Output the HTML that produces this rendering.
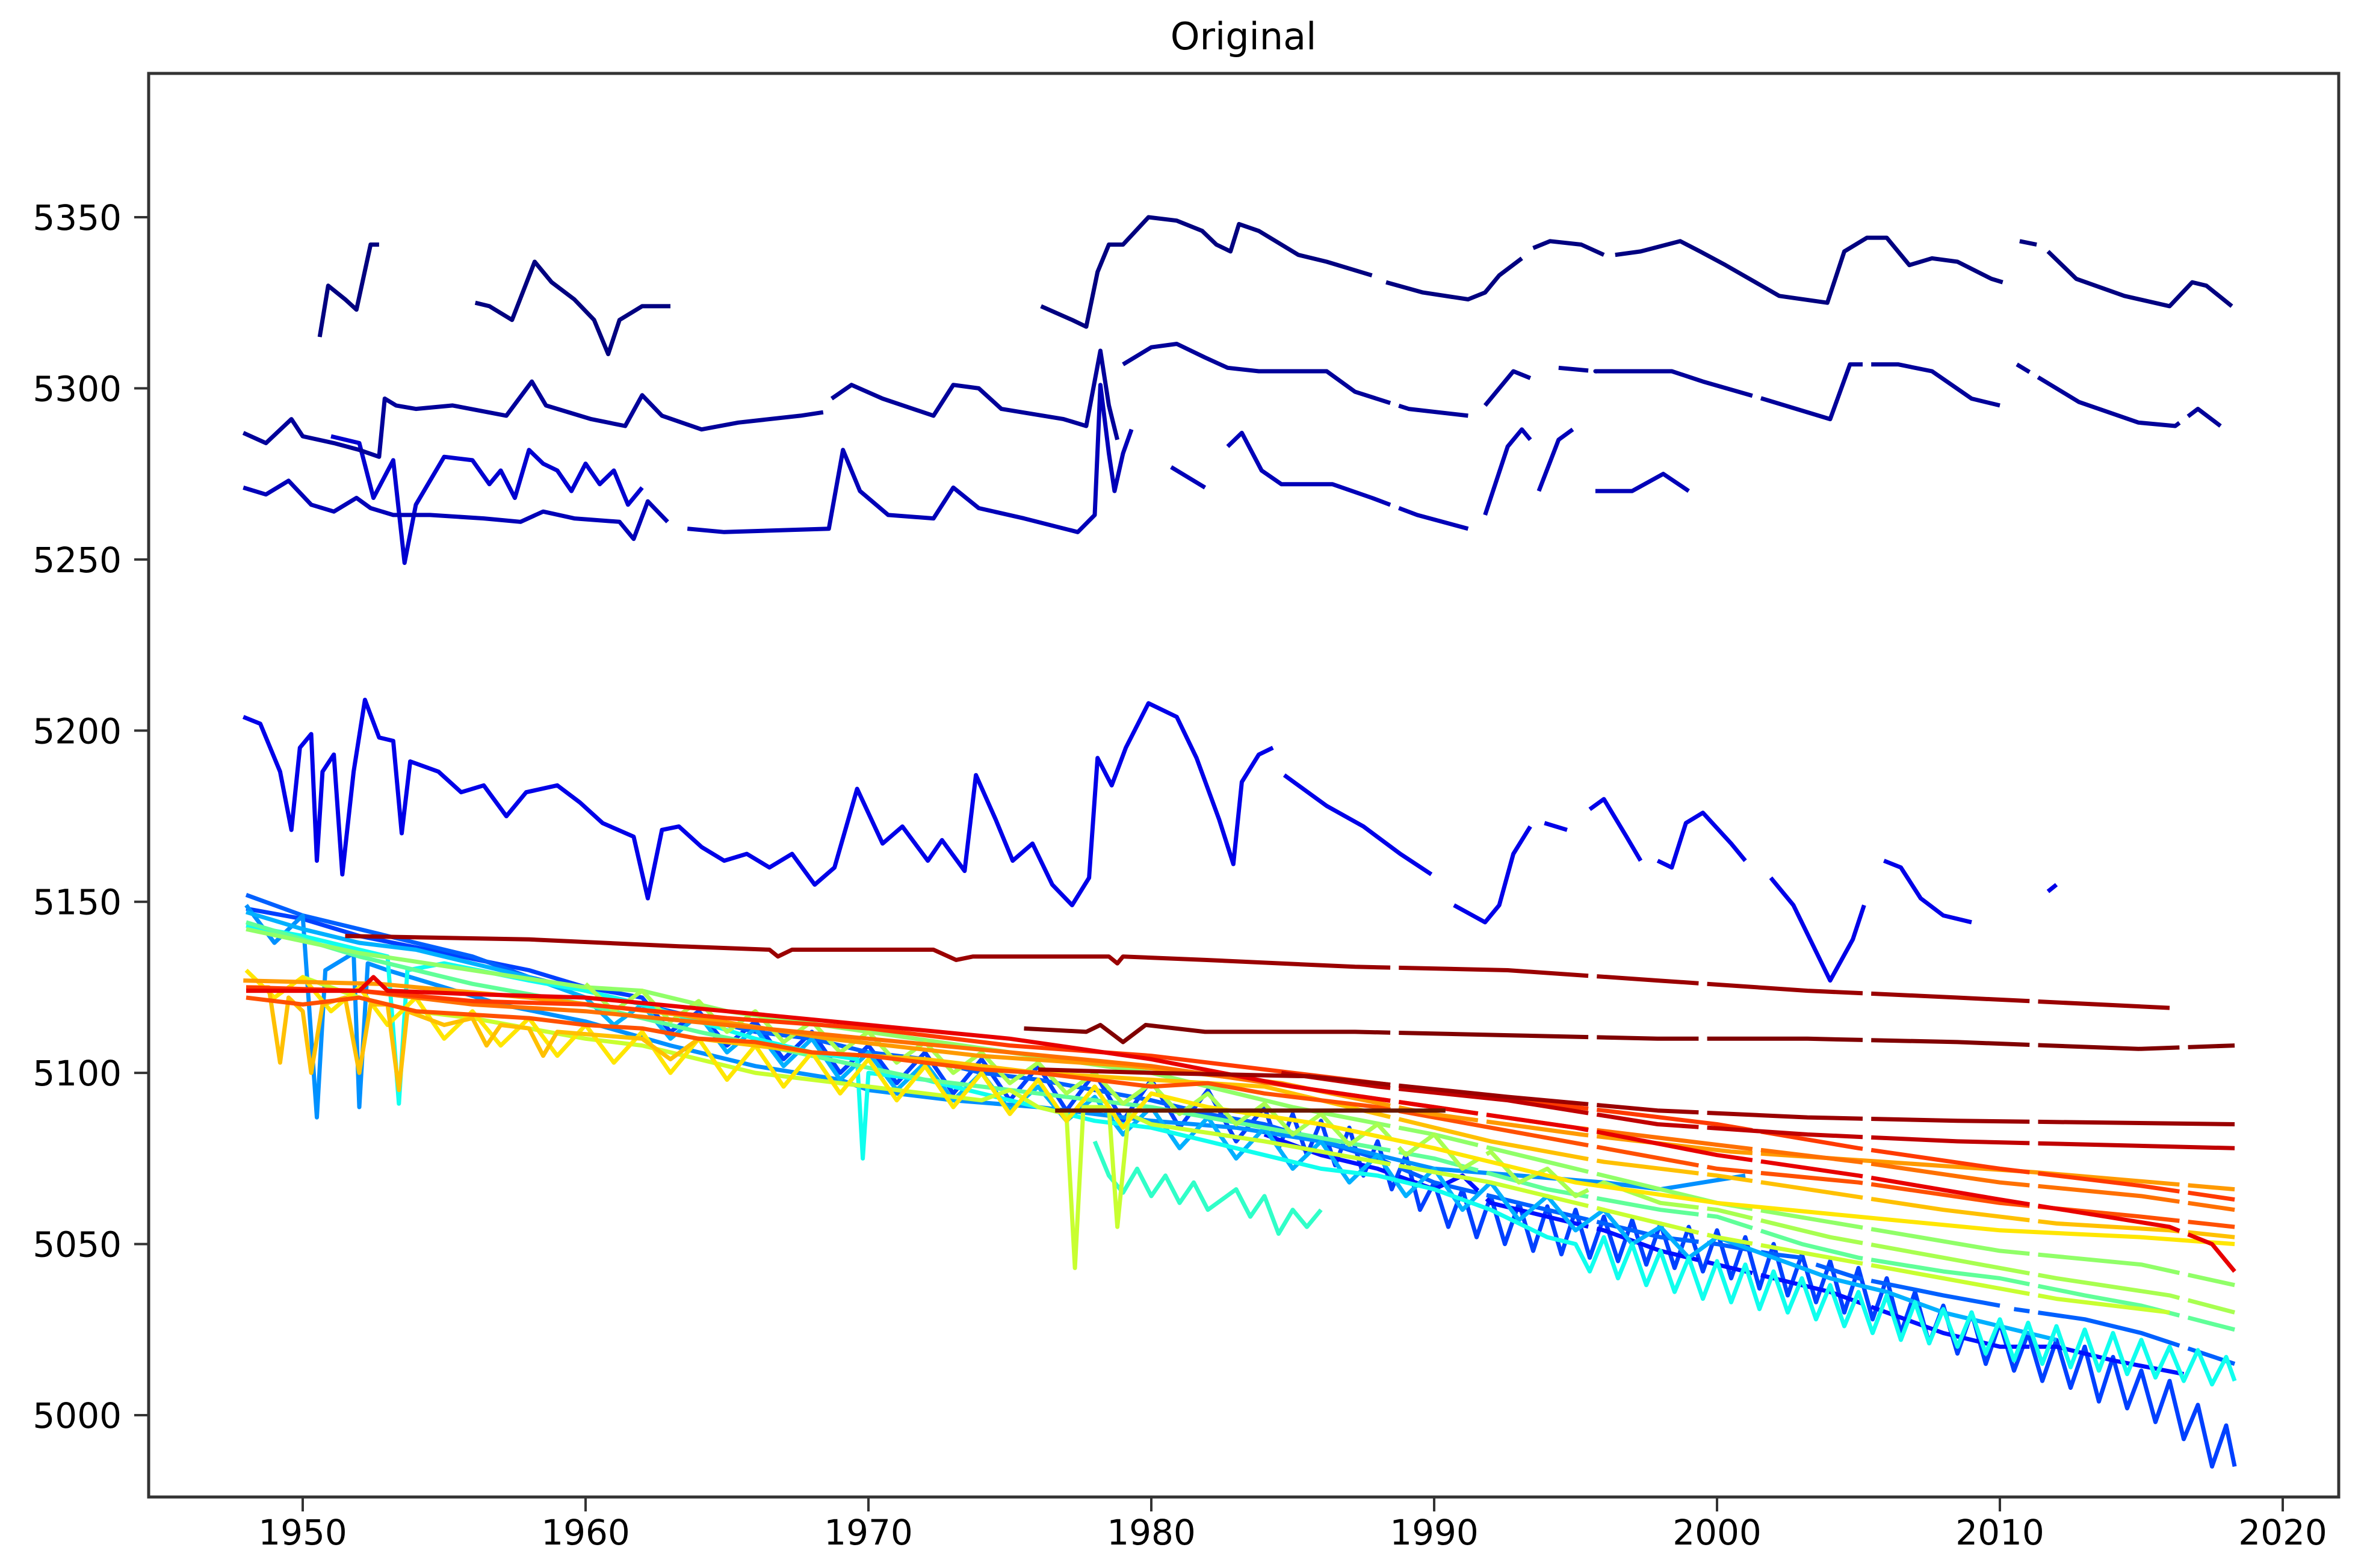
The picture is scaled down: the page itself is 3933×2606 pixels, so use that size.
<!DOCTYPE html>
<html><head><meta charset="utf-8"><style>
html,body{margin:0;padding:0;background:#fff;}
svg{display:block;}
text{font-family:"DejaVu Sans","Liberation Sans",sans-serif;fill:#000;}
</style></head><body>
<svg id="chart" width="3933" height="2606" viewBox="0 0 3933 2606" xmlns="http://www.w3.org/2000/svg">
<rect x="0" y="0" width="3933" height="2606" fill="#fff"/>
<text x="2066" y="82" font-size="62" text-anchor="middle">Original</text>
<g id="plot"></g>
<g id="axes"></g>
</svg>
<script>
const xTicks = [1950,1960,1970,1980,1990,2000,2010,2020];
const yTicks = [5000,5050,5100,5150,5200,5250,5300,5350];
const seriesColors = ["#000080","#00009a","#0000b8","#0000d0","#0000e8","#0010ff","#0040ff","#0060ff","#0090ff","#10ffee","#20f0ff","#30ffc8","#60ff98","#90ff68","#c8ff30","#ffe600","#ffc000","#ff9a00","#ff7000","#ff3a00","#e80000","#c00000","#9a0000","#800000","#6a1800","#ff5000","#a8ff50","#00b0ff"];
const sA = [[1950.6,5315],[1950.9,5330],[1951.5,5326],[1951.9,5323],[1952.4,5342],[1952.7,5342],null,[1956.1,5325],[1956.6,5324],[1957.4,5320],[1958.2,5337],[1958.8,5331],[1959.6,5326],[1960.3,5320],[1960.8,5310],[1961.2,5320],[1962,5324],[1963,5324],null,[1976.1,5324],[1977.2,5320],[1977.7,5318],[1978.1,5334],[1978.5,5342],[1979,5342],[1979.9,5350],[1980.9,5349],[1981.8,5346],[1982.3,5342],[1982.8,5340],[1983.1,5348],[1983.8,5346],[1985.2,5339],[1986.2,5337],[1987.8,5333],null,[1988.3,5331],[1989.6,5328],[1991.2,5326],[1991.8,5328],[1992.3,5333],[1993.1,5338],null,[1993.5,5341],[1994.1,5343],[1995.2,5342],[1996,5339],null,[1996.4,5339],[1997.3,5340],[1998.7,5343],[1999.4,5340],[2000.3,5336],[2002.2,5327],[2003.9,5325],[2004.5,5340],[2005.3,5344],[2006,5344],[2006.8,5336],[2007.6,5338],[2008.5,5337],[2009.7,5332],[2010.1,5331],null,[2010.7,5343],[2011.3,5342],null,[2011.7,5340],[2012.7,5332],[2014.4,5327],[2016,5324],[2016.8,5331],[2017.3,5330],[2018.2,5324]];
const sB = [[1947.9,5287],[1948.7,5284],[1949.6,5291],[1950,5286],[1951.1,5284],[1952,5282],[1952.7,5280],[1952.9,5297],[1953.3,5295],[1954,5294],[1955.3,5295],[1957.2,5292],[1958.1,5302],[1958.6,5295],[1960.2,5291],[1961.4,5289],[1962,5298],[1962.7,5292],[1964.1,5288],[1965.4,5290],[1967.6,5292],[1968.4,5293],null,[1968.7,5297],[1969.4,5301],[1970.5,5297],[1972.3,5292],[1973,5301],[1973.9,5300],[1974.7,5294],[1976.9,5291],[1977.7,5289],[1978.2,5311],[1978.5,5295],[1978.8,5285],null,[1979,5307],[1980,5312],[1980.9,5313],[1981.9,5309],[1982.7,5306],[1983.8,5305],[1986.2,5305],[1987.2,5299],[1989.1,5294],[1991.2,5292],null,[1991.8,5295],[1992.8,5305],[1993.4,5303],null,[1994.4,5306],[1995.7,5305],[1998.4,5305],[1999.5,5302],[2001.6,5297],[2004,5291],[2004.7,5307],[2006.4,5307],[2007.6,5305],[2009,5297],[2010,5295],null,[2010.6,5307],[2011.4,5303],[2012.8,5296],[2014.9,5290],[2016.2,5289],[2017,5294],[2017.8,5289]];
const sC = [[1947.9,5271],[1948.7,5269],[1949.5,5273],[1950.3,5266],[1951.1,5264],[1951.9,5268],[1952.4,5265],[1953.2,5263],[1954.5,5263],[1956.4,5262],[1957.7,5261],[1958.5,5264],[1959.6,5262],[1961.2,5261],[1961.7,5256],[1962.2,5267],[1962.9,5261],null,[1963.6,5259],[1964.9,5258],[1968.6,5259],[1969.1,5282],[1969.7,5270],[1970.7,5263],[1972.3,5262],[1973,5271],[1973.9,5265],[1975.5,5262],[1977.4,5258],[1978,5263],[1978.2,5301],[1978.5,5281],[1978.7,5270],[1979,5281],[1979.3,5288],null,[1980.7,5277],[1981.9,5271],null,[1982.7,5283],[1983.2,5287],[1983.9,5276],[1984.6,5272],[1986.4,5272],[1987.8,5268],[1989.4,5263],[1991.2,5259],null,[1991.8,5263],[1992.6,5283],[1993.1,5288],[1993.4,5285],null,[1993.7,5270],[1994.4,5285],[1994.9,5288],null,[1995.7,5270],[1997,5270],[1998.1,5275],[1999,5270]];
const sD = [[1951,5286],[1952,5284],[1952.5,5268],[1953.2,5279],[1953.6,5249],[1954,5266],[1955,5280],[1956,5279],[1956.6,5272],[1957,5276],[1957.5,5268],[1958,5282],[1958.5,5278],[1959,5276],[1959.5,5270],[1960,5278],[1960.5,5272],[1961,5276],[1961.5,5266],[1962,5271]];
const sE = [[1947.9,5204],[1948.5,5202],[1949.2,5188],[1949.6,5171],[1949.9,5195],[1950.3,5199],[1950.5,5162],[1950.7,5188],[1951.1,5193],[1951.4,5158],[1951.8,5188],[1952.2,5209],[1952.7,5198],[1953.2,5197],[1953.5,5170],[1953.8,5191],[1954.8,5188],[1955.6,5182],[1956.4,5184],[1957.2,5175],[1957.9,5182],[1959,5184],[1959.8,5179],[1960.6,5173],[1961.7,5169],[1962.2,5151],[1962.7,5171],[1963.3,5172],[1964.1,5166],[1964.9,5162],[1965.7,5164],[1966.5,5160],[1967.3,5164],[1968.1,5155],[1968.8,5160],[1969.6,5183],[1970.5,5167],[1971.2,5172],[1972.1,5162],[1972.6,5168],[1973.4,5159],[1973.8,5187],[1974.5,5174],[1975.1,5162],[1975.8,5167],[1976.5,5155],[1977.2,5149],[1977.8,5157],[1978.1,5192],[1978.6,5184],[1979.1,5195],[1979.9,5208],[1980.9,5204],[1981.6,5192],[1982.4,5174],[1982.9,5161],[1983.2,5185],[1983.8,5193],[1984.3,5195],null,[1984.7,5187],[1986.2,5178],[1987.5,5172],[1988.8,5164],[1989.9,5158],null,[1990.7,5149],[1991.8,5144],[1992.3,5149],[1992.8,5164],[1993.4,5172],null,[1993.9,5173],[1994.7,5171],null,[1995.5,5177],[1996,5180],[1996.8,5169],[1997.3,5162],null,[1997.9,5162],[1998.4,5160],[1998.9,5173],[1999.5,5176],[2000.5,5167],[2001,5162],null,[2001.9,5157],[2002.7,5149],[2004,5127],[2004.8,5139],[2005.2,5149],null,[2005.9,5162],[2006.5,5160],[2007.2,5151],[2008,5146],[2009,5144],null,[2011.7,5153],[2012,5155]];
const sBlueDeep = [[1948,5148],[1950,5145],[1952,5140],[1955,5135],[1958,5130],[1960,5125],[1962,5122],[1963,5112],[1964,5118],[1965,5108],[1966,5115],[1967,5104],[1968,5112],[1969,5100],[1970,5108],[1971,5097],[1972,5106],[1973,5094],[1974,5104],[1975,5092],[1976,5102],[1977,5089],[1978,5100],[1979,5086],[1980,5098],[1981,5084],[1982,5095],[1983,5080],[1984,5090],[1984.5,5078],[1985,5088],[1985.5,5076],[1986,5086],[1986.5,5073],[1987,5084],[1987.5,5070],[1988,5080],[1988.5,5066],[1989,5076],[1989.5,5060],[1990,5068],[1990.5,5055],[1991,5066],[1991.5,5052],[1992,5064],[1992.5,5050],[1993,5062],[1993.5,5048],[1994,5061],[1994.5,5047],[1995,5060],[1995.5,5046],[1996,5058],[1996.5,5045],[1997,5057],[1997.5,5044],[1998,5056],[1998.5,5043],[1999,5055],[1999.5,5042],[2000,5054],[2000.5,5040],[2001,5052],[2001.5,5037],[2002,5050],[2002.5,5035],[2003,5047],[2003.5,5033],[2004,5045],[2004.5,5030],[2005,5043],[2005.5,5028],[2006,5040],[2006.5,5024],[2007,5036],[2007.5,5021],[2008,5032],[2008.5,5018],[2009,5030],[2009.5,5015],[2010,5027],[2010.5,5013],[2011,5024],[2011.5,5010],[2012,5022],[2012.5,5008],[2013,5020],[2013.5,5004],[2014,5017],[2014.5,5002],[2015,5013],[2015.5,4998],[2016,5010],[2016.5,4993],[2017,5003],[2017.5,4985],[2018,4997],[2018.3,4985]];
const sBlue2 = [[1948,5152],[1950,5146],[1952,5142],[1954,5138],[1956,5134],[1958,5128],[1960,5124],[1962,5120],[1964,5116],[1966,5112],[1968,5110],[1970,5106],[1972,5104],[1974,5100],[1976,5098],[1978,5095],[1980,5092],[1982,5088],[1984,5085],[1986,5080],[1988,5075],[1990,5068],[1992,5064],[1994,5060],[1996,5056],[1998,5052],[2000,5050],[2002,5047],[2003,5046],null,[2003.5,5044],[2005,5040],[2008,5035],[2010,5032],null,[2010.5,5031],[2013,5028],[2015,5024],[2018.3,5015]];
const sBlue3 = [[1984,5082],[1986,5076],[1988,5072],[1990,5066],[1991,5070],[1992,5062],[1994,5058],[1996,5054],[1998,5048],[2000,5044],[2002,5040],[2004,5036],[2006,5030],[2008,5024],[2010,5020],[2012,5020],[2014,5016],[2016.5,5012]];
const sBlue4 = [[1948,5149],[1949,5138],[1950,5146],[1950.5,5087],[1950.8,5130],[1951.8,5135],[1952,5090],[1952.3,5132],[1953,5130],[1955,5125],[1957,5120],[1960,5115],[1963,5108],[1966,5102],[1969,5098],[1970,5095],[1973,5092],[1976,5090],[1980,5086],[1983,5084],[1986,5080],[1990,5072],[1993,5070],[1996,5068],[1998,5066],[2001,5070]];
const sCyan = [[1948,5143],[1950,5140],[1952,5136],[1953,5134],[1953.4,5091],[1953.7,5130],[1955,5132],[1958,5127],[1960,5124],[1962,5120],[1964,5115],[1966,5110],[1968,5106],[1969.6,5104],[1969.8,5075],[1970,5100],[1972,5098],[1974,5094],[1976,5090],[1978,5086],[1980,5084],[1982,5080],[1984,5076],[1986,5072],[1988,5070],[1990,5066],[1992,5060],[1993,5056],[1994,5052],[1995,5050],[1995.5,5042],[1996,5052],[1996.5,5040],[1997,5050],[1997.5,5038],[1998,5048],[1998.5,5036],[1999,5046],[1999.5,5034],[2000,5045],[2000.5,5033],[2001,5044],[2001.5,5031],[2002,5042],[2002.5,5030],[2003,5040],[2003.5,5028],[2004,5038],[2004.5,5026],[2005,5036],[2005.5,5024],[2006,5035],[2006.5,5022],[2007,5033],[2007.5,5021],[2008,5031],[2008.5,5020],[2009,5030],[2009.5,5018],[2010,5028],[2010.5,5016],[2011,5027],[2011.5,5015],[2012,5026],[2012.5,5014],[2013,5025],[2013.5,5013],[2014,5024],[2014.5,5012],[2015,5022],[2015.5,5011],[2016,5020],[2016.5,5010],[2017,5019],[2017.5,5009],[2018,5017],[2018.3,5010]];
const sTeal = [[1978,5080],[1978.5,5070],[1979,5065],[1979.5,5072],[1980,5064],[1980.5,5070],[1981,5062],[1981.5,5068],[1982,5060],[1983,5066],[1983.5,5058],[1984,5064],[1984.5,5053],[1985,5060],[1985.5,5055],[1986,5060]];
const sGreen2 = [[1948,5144],[1952,5134],[1956,5126],[1960,5120],[1964,5112],[1968,5105],[1972,5098],[1976,5094],[1980,5090],[1984,5084],[1988,5078],[1990,5075],[1994,5066],[1998,5060],[2000,5058],[2003,5050],[2005,5046],[2008,5042],[2010,5040],[2013,5035],[2015,5032],[2018.3,5025]];
const sGreen1 = [[1948,5142],[1952,5135],[1956,5130],[1960,5125],[1962,5124],[1965,5118],[1970,5112],[1975,5106],[1980,5100],[1985,5090],[1990,5082],[1995,5072],[2000,5062],[2005,5055],[2010,5048],[2015,5044],[2018.3,5038]];
const sLime = [[1950,5128],[1952,5122],[1954,5118],[1956,5116],[1958,5113],[1960,5110],[1962,5108],[1964,5104],[1966,5100],[1968,5098],[1970,5096],[1972,5094],[1974,5092],[1975,5095],[1976,5090],[1977,5088],[1977.3,5043],[1977.6,5090],[1978.5,5090],[1978.8,5055],[1979.2,5088],[1980,5085],[1984,5080],[1988,5074],[1992,5068],[1996,5060],[2000,5052],[2004,5046],[2008,5040],[2012,5034],[2016,5030]];
const sYellow = [[1948,5130],[1949,5122],[1950,5128],[1951,5118],[1952,5125],[1953,5114],[1954,5122],[1955,5110],[1956,5118],[1957,5108],[1958,5116],[1959,5105],[1960,5114],[1961,5103],[1962,5112],[1963,5100],[1964,5110],[1965,5098],[1966,5108],[1967,5096],[1968,5106],[1969,5094],[1970,5104],[1971,5092],[1972,5102],[1973,5090],[1974,5100],[1975,5088],[1976,5098],[1977,5086],[1978,5096],[1979,5084],[1980,5094],[1982,5090],[1986,5085],[1990,5078],[1995,5068],[2000,5062],[2005,5058],[2010,5054],[2015,5052],[2018.3,5050]];
const sGold = [[1948,5125],[1948.8,5125],[1949.2,5103],[1949.5,5122],[1950,5118],[1950.3,5100],[1950.7,5120],[1951.5,5122],[1952,5100],[1952.4,5120],[1953,5120],[1953.4,5095],[1953.7,5118],[1955,5114],[1956,5116],[1956.5,5108],[1957,5114],[1958,5113],[1958.5,5105],[1959,5112],[1962,5110],[1963,5104],[1964,5110],[1968,5106],[1972,5104],[1976,5100],[1980,5098],[1984,5096],[1988,5088],[1992,5080],[1996,5074],[2000,5070],[2004,5065],[2008,5060],[2012,5056],[2016,5054],[2018.3,5052]];
const sOrange1 = [[1947.9,5127],[1952.7,5126],[1958,5122],[1963.3,5117],[1968.6,5110],[1973.9,5105],[1979.3,5102],[1984.6,5097],[1989.9,5088],[1995.2,5082],[2000.5,5077],[2005.9,5074],[2011.2,5071],[2018.3,5066]];
const sOrange2 = [[1948,5124],[1952,5124],[1956,5120],[1960,5118],[1965,5114],[1970,5110],[1975,5106],[1980,5102],[1985,5096],[1990,5090],[1995,5084],[2000,5079],[2005,5074],[2010,5068],[2015,5064],[2018.3,5060]];
const sOrangeRed = [[1948,5125],[1952,5124],[1956,5121],[1960,5120],[1965,5116],[1970,5113],[1975,5108],[1980,5105],[1985,5100],[1990,5095],[1995,5090],[2000,5085],[2005,5078],[2010,5072],[2015,5067],[2018.3,5063]];
const sRed = [[1948,5124],[1952,5124],[1952.5,5128],[1953,5124],[1956,5123],[1960,5122],[1965,5118],[1970,5114],[1975,5110],[1980,5104],[1985,5096],[1990,5090],[1995,5084],[2000,5076],[2005,5070],[2010,5063],[2016,5055],[2017.5,5050],[2018.3,5042]];
const sRed4 = [[1984.6,5100],[1988,5096],[1992.6,5092],[1997.9,5085],[2003.2,5082],[2008.5,5080],[2018.3,5078]];
const sDarkRed1 = [[1951.5,5140],[1958,5139],[1963.3,5137],[1966.5,5136],[1966.8,5134],[1967.3,5136],[1972.3,5136],[1973.1,5133],[1973.7,5134],[1978.5,5134],[1978.8,5132],[1979,5134],[1981.9,5133],[1987.2,5131],[1992.6,5130],[1997.9,5127],[2003.2,5124],[2008.5,5122],[2016,5119]];
const sDarkRed2 = [[1975.5,5113],[1977.7,5112],[1978.2,5114],[1979,5109],[1979.8,5114],[1981.9,5112],[1987.2,5112],[1992.6,5111],[1997.9,5110],[2003.2,5110],[2008.5,5109],[2014.9,5107],[2018.3,5108]];
const sDarkRed3 = [[1976,5101],[1980,5100],[1985.6,5099],[1992.6,5093],[1997.9,5089],[2003.2,5087],[2008.5,5086],[2018.3,5085]];
const sBrown = [[1976.6,5089],[1990.4,5089]];
const sOrangeBand = [[1948,5122],[1950,5120],[1952,5122],[1954,5118],[1956,5117],[1958,5116],[1960,5114],[1962,5113],[1964,5110],[1966,5109],[1968,5106],[1970,5105],[1972,5103],[1974,5101],[1976,5100],[1978,5098],[1980,5096],[1982,5097],[1984,5094],[1986,5092],[1988,5090],[1992,5084],[1996,5078],[2000,5072],[2005,5068],[2010,5062],[2015,5058],[2018.3,5055]];
const sGreenOsc = [[1960,5126],[1961,5118],[1962,5124],[1963,5115],[1964,5121],[1965,5112],[1966,5118],[1967,5109],[1968,5115],[1969,5106],[1970,5112],[1971,5103],[1972,5109],[1973,5100],[1974,5106],[1975,5097],[1976,5103],[1977,5094],[1978,5100],[1979,5091],[1980,5097],[1981,5088],[1982,5094],[1983,5085],[1984,5091],[1985,5082],[1986,5088],[1987,5079],[1988,5085],[1989,5076],[1990,5082],[1991,5072],[1992,5077],[1993,5068],[1994,5072],[1995,5064],[1996,5068],[1998,5062],[2000,5060],[2004,5052],[2008,5046],[2012,5040],[2016,5035],[2018.3,5030]];
const sSkyOsc = [[1948,5147],[1950,5142],[1952,5138],[1954,5136],[1956,5132],[1958,5128],[1960,5122],[1961,5114],[1962,5120],[1963,5110],[1964,5117],[1965,5106],[1966,5113],[1967,5102],[1968,5110],[1969,5098],[1970,5106],[1971,5095],[1972,5103],[1973,5092],[1974,5100],[1975,5089],[1976,5096],[1977,5086],[1978,5093],[1979,5082],[1980,5090],[1981,5078],[1982,5087],[1983,5075],[1984,5084],[1985,5072],[1986,5080],[1987,5068],[1988,5076],[1989,5064],[1990,5072],[1991,5060],[1992,5068],[1993,5057],[1994,5064],[1995,5054],[1996,5060],[1997,5050],[1998,5055],[1999,5046],[2000,5052],[2002,5046],[2004,5040],[2006,5036],[2008,5030],[2010,5026],[2012,5022]];
const seriesList = [sA,sB,sC,sD,sE,sBlue4,sBlueDeep,sBlue2,sBlue3,sCyan,sTeal,sGreen2,sGreen1,sLime,sYellow,sGold,sOrange1,sOrange2,sOrangeRed,sRed,sRed4,sDarkRed1,sDarkRed2,sDarkRed3,sBrown,sOrangeBand,sGreenOsc,sSkyOsc];
const seriesColorIdx = [0,1,2,3,4,8,6,7,5,9,11,12,13,14,15,16,17,18,19,20,21,22,23,22,24,25,26,27];
const missingYears = [1988.6,1991.7,1995.6,1999.5,2001.4,2005.3,2011.2,2016.5];

const X0=247,X1=3886,Y0=122,Y1=2488;
function xs(yr){return 503+(yr-1950)*(3793-503)/70;}
function ys(v){return 2352-(v-5000)*(2352-361)/350;}
const NS="http://www.w3.org/2000/svg";
const plot=document.getElementById('plot');
const axes=document.getElementById('axes');
const clip=document.createElementNS(NS,'clipPath');clip.setAttribute('id','clipA');
const cr=document.createElementNS(NS,'rect');cr.setAttribute('x',X0);cr.setAttribute('y',Y0);cr.setAttribute('width',X1-X0);cr.setAttribute('height',Y1-Y0);
clip.appendChild(cr);document.getElementById('chart').appendChild(clip);
plot.setAttribute('clip-path','url(#clipA)');
const gapSeries = new Set([1,2,7,8,11,12,13,15,16,17,18,19,20,21,22,23,25,26]);
const drawOrder = [6,7,8,5,27,9,10,11,12,26,13,14,15,25,16,17,18,19,20,21,22,23,24,4,3,2,1,0];
drawOrder.forEach(function(si){
  const s=seriesList[si];
  let d='';let pen=false;let prev=null;
  s.forEach(function(p){
    if(p===null){pen=false;prev=null;return;}
    if(prev&&gapSeries.has(si)){
      const mg=missingYears.find(function(m){return m>prev[0]&&m<p[0]&&p[0]>1985;});
      if(mg!==undefined){
        const t1=(mg-0.15-prev[0])/(p[0]-prev[0]),t2=(mg+0.15-prev[0])/(p[0]-prev[0]);
        const v1=prev[1]+(p[1]-prev[1])*t1,v2=prev[1]+(p[1]-prev[1])*t2;
        d+='L'+xs(mg-0.15).toFixed(1)+' '+ys(v1).toFixed(1)+'M'+xs(mg+0.15).toFixed(1)+' '+ys(v2).toFixed(1);
      }
    }
    d+=(pen?'L':'M')+xs(p[0]).toFixed(1)+' '+ys(p[1]).toFixed(1);
    pen=true;prev=p;
  });
  const path=document.createElementNS(NS,'path');
  path.setAttribute('d',d);path.setAttribute('fill','none');
  path.setAttribute('stroke',seriesColors[seriesColorIdx[si]]);
  path.setAttribute('stroke-width','7');path.setAttribute('stroke-linejoin','round');
  
  
  plot.appendChild(path);
});
const frame=document.createElementNS(NS,'rect');
frame.setAttribute('x',X0);frame.setAttribute('y',Y0);frame.setAttribute('width',X1-X0);frame.setAttribute('height',Y1-Y0);
frame.setAttribute('fill','none');frame.setAttribute('stroke','#333');frame.setAttribute('stroke-width','5');


axes.appendChild(frame);
xTicks.forEach(function(t){
  const x=xs(t);
  const l=document.createElementNS(NS,'line');
  l.setAttribute('x1',x);l.setAttribute('x2',x);l.setAttribute('y1',Y1);l.setAttribute('y2',Y1+24);
  l.setAttribute('stroke','#333');l.setAttribute('stroke-width','4');
  
  
  axes.appendChild(l);
  const tx=document.createElementNS(NS,'text');
  tx.setAttribute('x',x);tx.setAttribute('y',2567);tx.setAttribute('font-size','58');tx.setAttribute('text-anchor','middle');
  tx.textContent=t;
  
  
  axes.appendChild(tx);
});
yTicks.forEach(function(t){
  const y=ys(t);
  const l=document.createElementNS(NS,'line');
  l.setAttribute('x1',X0-24);l.setAttribute('x2',X0);l.setAttribute('y1',y);l.setAttribute('y2',y);
  l.setAttribute('stroke','#333');l.setAttribute('stroke-width','4');
  
  
  axes.appendChild(l);
  const tx=document.createElementNS(NS,'text');
  tx.setAttribute('x',202);tx.setAttribute('y',y+21);tx.setAttribute('font-size','58');tx.setAttribute('text-anchor','end');
  tx.textContent=t;
  
  
  axes.appendChild(tx);
});
</script>
</body></html>
